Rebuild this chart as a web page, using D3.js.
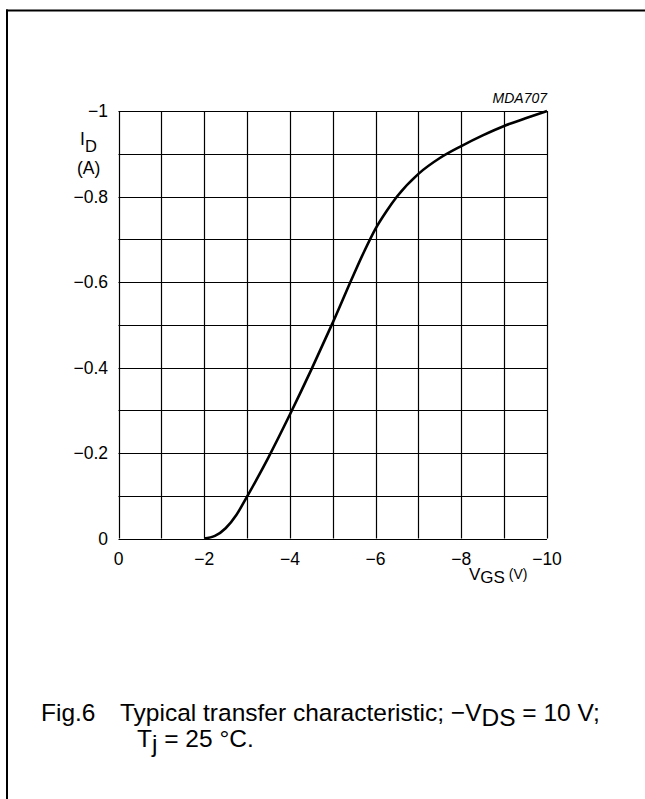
<!DOCTYPE html>
<html><head><meta charset="utf-8">
<script src="https://cdn.jsdelivr.net/npm/d3@7"></script>
<style>body{margin:0;background:#fff}svg{display:block}text{font-family:"Liberation Sans",Arial,sans-serif;fill:#000}</style>
</head><body>
<script>
const vgs = [-2, -2.25, -2.5, -2.75, -3, -3.25, -3.5, -4, -4.5, -5, -5.5, -5.75, -6, -6.25, -6.5, -7, -7.5, -8, -8.5, -9, -9.5, -10];
const idA = [0, -0.006, -0.024, -0.055, -0.098, -0.143, -0.19, -0.29, -0.395, -0.505, -0.62, -0.675, -0.725, -0.765, -0.8, -0.853, -0.89, -0.918, -0.943, -0.965, -0.983, -1.0];
const xTicks = [0, -2, -4, -6, -8, -10];
const xTickLabels = ["0", "\u22122", "\u22124", "\u22126", "\u22128", "\u221210"];
const yTicks = [0, -0.2, -0.4, -0.6, -0.8, -1];
const yTickLabels = ["0", "\u22120.2", "\u22120.4", "\u22120.6", "\u22120.8", "\u22121"];
const xGrid = d3.range(0, -10.5, -1);
const yGrid = d3.range(0, -1.05, -0.1);

const W = 645, H = 799;
const svg = d3.select("body").append("svg").attr("width", W).attr("height", H);

// frame
svg.append("line").attr("x1", 6).attr("x2", W).attr("y1", 10.5).attr("y2", 10.5).attr("stroke", "#000").attr("stroke-width", 2);
svg.append("line").attr("x1", 7).attr("x2", 7).attr("y1", 9.5).attr("y2", H).attr("stroke", "#000").attr("stroke-width", 2);

const x = d3.scaleLinear().domain([0, -10]).range([118.5, 547]);
const y = d3.scaleLinear().domain([0, -1]).range([538.5, 111]);

const g = svg.append("g");
g.selectAll(".vx").data(xGrid).join("line")
  .attr("x1", d => Math.round(x(d)) + 0.5).attr("x2", d => Math.round(x(d)) + 0.5)
  .attr("y1", y(0)).attr("y2", y(-1)).attr("stroke", "#000").attr("stroke-width", 1.2);
g.selectAll(".hy").data(yGrid).join("line")
  .attr("y1", d => Math.round(y(d)) + 0.5).attr("y2", d => Math.round(y(d)) + 0.5)
  .attr("x1", x(0)).attr("x2", x(-10)).attr("stroke", "#000").attr("stroke-width", 1.2);

// tick labels
svg.selectAll(".xt").data(xTicks).join("text")
  .attr("x", d => x(d)).attr("y", 565).attr("text-anchor", "middle")
  .attr("font-size", 17.5).text((d, i) => xTickLabels[i]);
svg.selectAll(".yt").data(yTicks).join("text")
  .attr("x", 108).attr("y", d => y(d) + 6).attr("text-anchor", "end")
  .attr("font-size", 17.5).text((d, i) => yTickLabels[i]);

// axis titles
const yl = svg.append("text").attr("x", 80).attr("y", 145).attr("font-size", 17.5);
yl.append("tspan").text("I");
yl.append("tspan").attr("dy", 7).attr("font-size", 16.5).text("D");
svg.append("text").attr("x", 77).attr("y", 174).attr("font-size", 17.5).text("(A)");

const xl = svg.append("text").attr("x", 469).attr("y", 580).attr("font-size", 17);
xl.append("tspan").text("V");
xl.append("tspan").attr("dy", 3).text("GS");
xl.append("tspan").attr("dy", -4).attr("font-size", 14).text(" (V)");

svg.append("text").attr("x", 547).attr("y", 103).attr("text-anchor", "end")
  .attr("font-size", 14).attr("font-style", "italic").text("MDA707");

// curve
const pts = vgs.map((v, i) => [v, idA[i]]);
svg.append("path").datum(pts)
  .attr("fill", "none").attr("stroke", "#000").attr("stroke-width", 2.6)
  .attr("d", d3.line().x(d => x(d[0])).y(d => y(d[1])).curve(d3.curveMonotoneX));

// caption
const capFont = "'Liberation Sans Narrow','Liberation Sans',Arial,sans-serif";
svg.append("text").attr("x", 41).attr("y", 721).attr("font-size", 24.5).attr("font-family", capFont).text("Fig.6");
const c1 = svg.append("text").attr("x", 120).attr("y", 721).attr("font-size", 24.5).attr("font-family", capFont);
c1.append("tspan").text("Typical transfer characteristic; \u2212V");
c1.append("tspan").attr("dy", 5).text("DS");
c1.append("tspan").attr("dy", -5).text(" = 10 V;");
const c2 = svg.append("text").attr("x", 137).attr("y", 747).attr("font-size", 24.5).attr("font-family", capFont);
c2.append("tspan").text("T");
c2.append("tspan").attr("dy", 5).text("j");
c2.append("tspan").attr("dy", -5).text(" = 25 \u00B0C.");
</script>
</body></html>
